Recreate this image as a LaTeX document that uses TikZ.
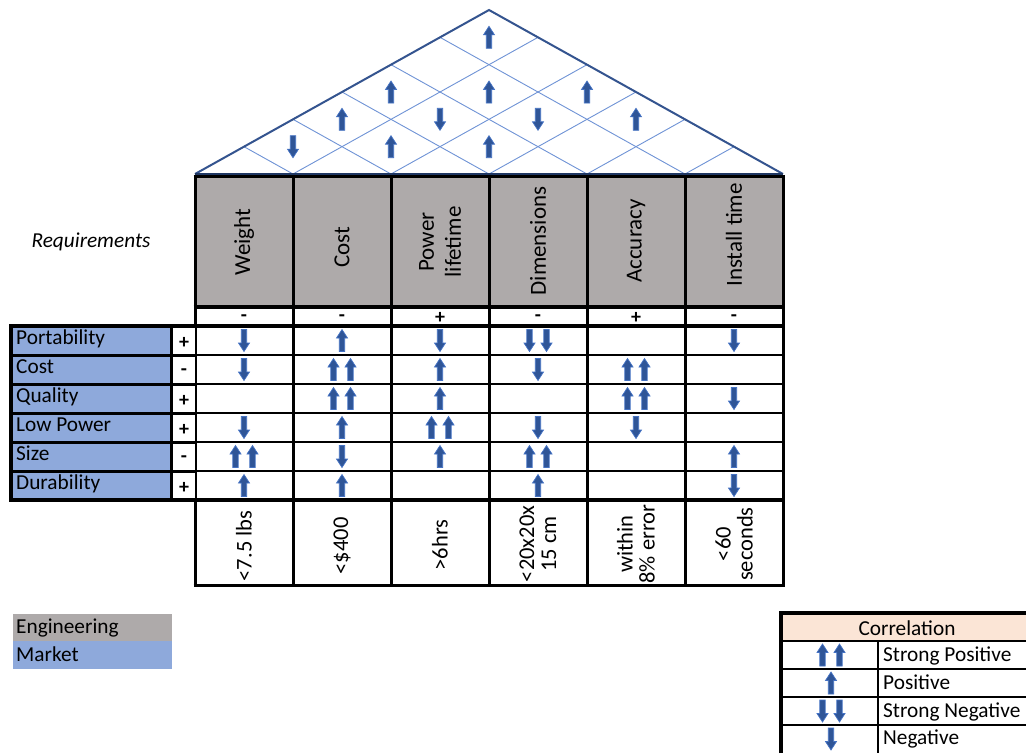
\documentclass[tikz,border=0pt]{standalone}
\usepackage{fontspec}
\setmainfont{Carlito}
\definecolor{hgray}{HTML}{AEAAAA}
\definecolor{mblue}{HTML}{8EA9DB}
\definecolor{peach}{HTML}{FBE5D6}
\definecolor{arrfill}{HTML}{2F5597}
\definecolor{arredge}{HTML}{4472C4}
\definecolor{roofedge}{HTML}{34548F}
\definecolor{roofgrid}{HTML}{6F93D6}
\definecolor{roofbase}{HTML}{203864}
\tikzset{
  arrowbody/.style={fill=arrfill, draw=arredge, line width=0.7pt, line join=miter},
  arU/.pic={\path[arrowbody] (-2.7,11) -- (-2.7,-2.5) -- (-5.5,-2.5) -- (0,-11) -- (5.5,-2.5) -- (2.7,-2.5) -- (2.7,11) -- cycle;},
  arD/.pic={\path[arrowbody] (-2.7,-11) -- (-2.7,2.5) -- (-5.5,2.5) -- (0,11) -- (5.5,2.5) -- (2.7,2.5) -- (2.7,-11) -- cycle;},
  arUU/.pic={\pic at (-8.5,0) {arU}; \pic at (8.5,0) {arU};},
  arDD/.pic={\pic at (-8.5,0) {arD}; \pic at (8.5,0) {arD};},
  lbl/.style={anchor=base west, inner sep=0pt, font=\fontsize{21.3}{25}\selectfont},
  hdr/.style={rotate=90, align=center, inner sep=0pt, font=\fontsize{23}{27}\selectfont},
  tgt/.style={rotate=90, align=center, inner sep=0pt, font=\fontsize{22.5}{22}\selectfont},
  sgn/.style={inner sep=0pt, font=\bfseries\fontsize{20}{22}\selectfont},
  thickline/.style={line width=3pt, black},
  rowline/.style={line width=2.2pt, black},
}
\newcommand\corrmark[3]{\ifcase#1\relax\or\pic at (#2,#3) {arU};\or\pic at (#2,#3) {arUU};\or\pic at (#2,#3) {arD};\or\pic at (#2,#3) {arDD};\fi}
\begin{document}
\begin{tikzpicture}[x=1pt,y=-1pt]
\fill[white] (0,0) rectangle (1026,753);
\useasboundingbox (0,0) rectangle (1026,753);

% ---------- roof ----------
\coordinate (apex) at (489,10);
\coordinate (bl) at (195,174);
\coordinate (br) at (783,174);
\foreach \k in {1,...,5} {
  \draw[roofgrid, line width=0.9pt] ({195+49*\k},{174-27.333*\k}) -- ({195+98*\k},174) -- ({489+49*\k},{10+27.333*\k});
}
\draw[roofedge, line width=2pt, line join=miter] (bl) -- (apex) -- (br);
\draw[roofbase, line width=2.5pt] (bl) -- (br);
% roof correlations
\corrmark{1}{489}{37.3}
\corrmark{1}{391}{92}
\corrmark{1}{489}{92}
\corrmark{1}{587}{92}
\corrmark{1}{342}{119.3}
\corrmark{3}{440}{119.3}
\corrmark{3}{538}{119.3}
\corrmark{1}{636}{119.3}
\corrmark{3}{293}{146.7}
\corrmark{1}{391}{146.7}
\corrmark{1}{489}{146.7}

% ---------- header ----------
\fill[hgray] (195,176) rectangle (783,307);
\foreach \k in {0,...,6} {
  \draw[thickline] ({195+98*\k},176) -- ({195+98*\k},585);
}
\draw[thickline] (193.5,176.5) -- (784.5,176.5);
\draw[line width=4pt] (193.5,307) -- (784.5,307);
\draw[line width=4pt] (11,326) -- (784.5,326);
\foreach \r in {1,...,5} {
  \draw[rowline] (195,{326+29*\r}) -- (783,{326+29*\r});
}
\draw[line width=3.5pt] (11,500) -- (784.5,500);
\draw[thickline] (193.5,585) -- (784.5,585);

\node[hdr] (h0) at (244,242) {Weight};
\node[hdr] (h1) at (342,247) {Cost};
\node[hdr] (h2) at (440,242) {Power\\lifetime};
\node[hdr] (h3) at (538,241) {Dimensions};
\node[hdr] (h4) at (636,241) {Accuracy};
\node[hdr] (h5) at (734,235) {Install time};

\foreach \s [count=\k from 0] in {-,-,+,-,+,-} {
  \node[sgn] (hs\k) at ({244+98*\k},318) {\s};
}

% ---------- left block ----------
\fill[mblue] (11,326) rectangle (171,500);
\fill[white] (171,326) rectangle (195,500);
\foreach \r in {1,...,5} {
  \draw[line width=3pt] (11,{326+29*\r}) -- (195,{326+29*\r});
}
\draw[line width=3pt] (171.5,326) -- (171.5,500);
\draw[line width=4pt] (195,326) -- (11,326) -- (11,500) -- (195,500);

\node[lbl] (r0) at (16,344) {Portability};
\node[lbl] (r1) at (16,373) {Cost};
\node[lbl] (r2) at (16,402) {Quality};
\node[lbl] (r3) at (16,431) {Low Power};
\node[lbl] (r4) at (16,460) {Size};
\node[lbl] (r5) at (16,489) {Durability};
\foreach \s [count=\r from 0] in {+,-,+,+,-,+} {
  \node[sgn] (rs\r) at (184,{343+29*\r}) {\s};
}

\node[inner sep=0pt, font=\itshape\fontsize{21.3}{25}\selectfont] (req) at (91,242) {Requirements};

% ---------- relationship matrix ----------
\foreach \rowvals [count=\r from 0] in {{3,1,3,4,0,3},{3,2,1,3,2,0},{0,2,1,0,2,3},{3,1,2,3,3,0},{2,3,1,2,0,1},{1,1,0,1,0,3}} {
  \foreach \c [count=\k from 0] in \rowvals {
    \corrmark{\c}{244+98*\k}{340.5+29*\r}
  }
}

% ---------- target values ----------
\node[tgt] (b0) at (244,546) {<7.5 lbs};
\node[tgt] (b1) at (342,546) {<\$400};
\node[tgt] (b2) at (440,545) {>6hrs};
\node[tgt] (b3) at (538,544) {<20x20x\\15 cm};
\node[tgt] (b4) at (636,544) {within\\8\% error};
\node[tgt] (b5) at (734,544) {<60\\seconds};

% ---------- key ----------
\fill[hgray] (13,614) rectangle (172,641);
\fill[mblue] (13,641) rectangle (172,669);
\node[lbl] (keng) at (16,633) {Engineering};
\node[lbl] (kmkt) at (16,661) {Market};

% ---------- correlation legend ----------
\fill[peach] (783,615) rectangle (1026,641);
\draw[line width=4pt] (781,753) -- (781,613) -- (1026,613);
\foreach \yy in {641,669,697,725} {
  \draw[line width=2.2pt] (781,\yy) -- (1026,\yy);
}
\draw[line width=2.2pt] (878,641) -- (878,753);
\node[inner sep=0pt, font=\fontsize{21.3}{25}\selectfont] (ctitle) at (907,628) {Correlation};
\corrmark{2}{831}{655}
\corrmark{1}{831}{683}
\corrmark{4}{831}{711}
\corrmark{3}{831}{739}
\node[lbl] (l1) at (883,661) {Strong Positive};
\node[lbl] (l2) at (883,689) {Positive};
\node[lbl] (l3) at (883,717) {Strong Negative};
\node[lbl] (l4) at (883,744) {Negative};
\end{tikzpicture}
\end{document}
